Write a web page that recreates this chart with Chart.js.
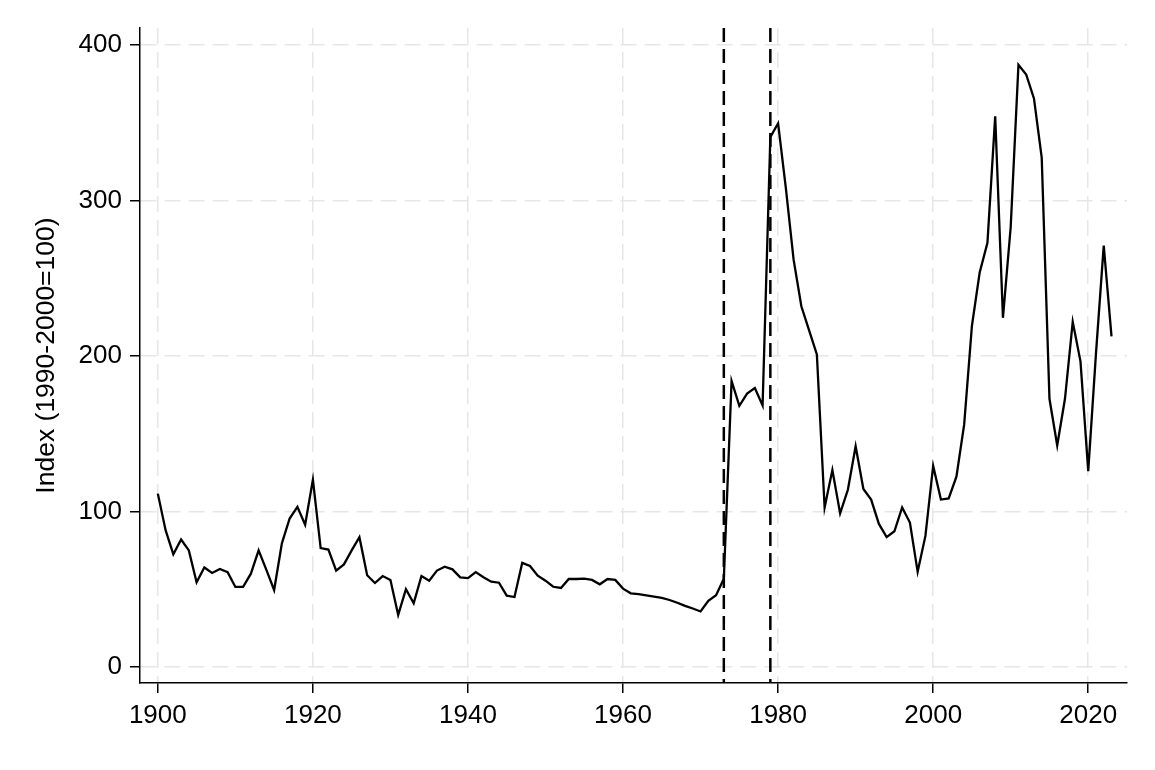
<!DOCTYPE html>
<html>
<head>
<meta charset="utf-8">
<title>Index 1900-2023</title>
<script src="https://cdn.jsdelivr.net/npm/chart.js@4.4.0/dist/chart.umd.min.js"></script>
<style>
  html, body { margin: 0; padding: 0; background: #fff; }
  canvas { display: block; }
</style>
</head>
<body>
<canvas id="indexChart" width="1155" height="770"></canvas>
<script>
// years on the x axis
const years = [
  1900, 1901, 1902, 1903, 1904, 1905, 1906, 1907, 1908, 1909,
  1910, 1911, 1912, 1913, 1914, 1915, 1916, 1917, 1918, 1919,
  1920, 1921, 1922, 1923, 1924, 1925, 1926, 1927, 1928, 1929,
  1930, 1931, 1932, 1933, 1934, 1935, 1936, 1937, 1938, 1939,
  1940, 1941, 1942, 1943, 1944, 1945, 1946, 1947, 1948, 1949,
  1950, 1951, 1952, 1953, 1954, 1955, 1956, 1957, 1958, 1959,
  1960, 1961, 1962, 1963, 1964, 1965, 1966, 1967, 1968, 1969,
  1970, 1971, 1972, 1973, 1974, 1975, 1976, 1977, 1978, 1979,
  1980, 1981, 1982, 1983, 1984, 1985, 1986, 1987, 1988, 1989,
  1990, 1991, 1992, 1993, 1994, 1995, 1996, 1997, 1998, 1999,
  2000, 2001, 2002, 2003, 2004, 2005, 2006, 2007, 2008, 2009,
  2010, 2011, 2012, 2013, 2014, 2015, 2016, 2017, 2018, 2019,
  2020, 2021, 2022, 2023
];

// index values (1990-2000 = 100), one per year
const indexValues = [
  111.5, 88, 72.5, 82, 75, 54.5, 64, 60.5, 63, 61,
  51.5, 51.5, 60, 75, 62.5, 49.5, 79.5, 95.5, 103, 91.5,
  120.5, 76.5, 75.5, 62, 66, 75, 83.5, 59, 54, 58.5,
  56, 33.5, 50, 41, 58.5, 55.5, 62, 64.5, 62.8, 57.7,
  57.2, 61, 57.7, 54.9, 54.2, 45.9, 45, 67, 65, 58.7,
  55.5, 51.6, 50.8, 56.6, 56.6, 56.8, 56, 53.2, 56.6, 56,
  50.4, 47.4, 46.8, 46.1, 45.3, 44.4, 43.1, 41.3, 39.3, 37.6,
  35.7, 42.6, 46.1, 56.8, 184, 168, 175.8, 179.4, 168.2, 340.8,
  349.7, 308, 262, 232, 216.5, 201, 102.6, 126.7, 98.8, 114,
  142, 114.5, 107.7, 92, 83.5, 87.3, 102.6, 92.9, 61.2, 84.3,
  129.3, 107.7, 108.4, 122.4, 156, 219.5, 253.8, 272.9, 354.2, 224.6,
  283, 387.3, 381, 365.7, 327.6, 172.5, 142.5, 172.5, 222, 196.6,
  126, 201.7, 271, 212.7
];

// vertical dashed reference lines
const breakYears = [1973, 1979];

// tick labels
const xTickValues = [1900, 1920, 1940, 1960, 1980, 2000, 2020];
const yTickValues = [0, 100, 200, 300, 400];

const fontFamily = '"Liberation Sans", Arial, Helvetica, sans-serif';
const gridColor = '#e6e6e6';

// draws the dashed vertical lines at the break years
const breakLinesPlugin = {
  id: 'breakLines',
  afterDatasetsDraw(chart) {
    const ctx = chart.ctx;
    const area = chart.chartArea;
    const xScale = chart.scales.x;
    ctx.save();
    ctx.strokeStyle = '#000';
    ctx.lineWidth = 2.5;
    ctx.setLineDash([14, 7]);
    breakYears.forEach(year => {
      const px = xScale.getPixelForValue(year);
      ctx.beginPath();
      ctx.moveTo(px, area.top);
      ctx.lineTo(px, area.bottom);
      ctx.stroke();
    });
    ctx.restore();
  }
};

const ctx = document.getElementById('indexChart').getContext('2d');
new Chart(ctx, {
  type: 'line',
  data: {
    datasets: [{
      data: years.map((year, i) => ({ x: year, y: indexValues[i] })),
      borderColor: '#000',
      borderWidth: 2.3,
      pointRadius: 0,
      tension: 0,
      fill: false
    }]
  },
  options: {
    responsive: false,
    animation: false,
    layout: { padding: { top: 28, right: 28, left: 31, bottom: 0 } },
    plugins: {
      legend: { display: false },
      tooltip: { enabled: false }
    },
    scales: {
      x: {
        type: 'linear',
        min: 1897.7,
        max: 2025,
        afterBuildTicks: scale => { scale.ticks = xTickValues.map(v => ({ value: v })); },
        afterFit: scale => { scale.height = 87; },
        grid: { color: gridColor, lineWidth: 1.5, tickLength: 10, tickColor: '#000', tickWidth: 1.5 },
        border: { color: '#000', width: 1.5, dash: [16, 8] },
        ticks: {
          color: '#000',
          font: { family: fontFamily, size: 26 },
          padding: 7,
          maxRotation: 0,
          autoSkip: false,
          callback: value => String(value)
        }
      },
      y: {
        type: 'linear',
        min: -10.3,
        max: 411,
        afterBuildTicks: scale => { scale.ticks = yTickValues.map(v => ({ value: v })); },
        afterFit: scale => { scale.width = 140 - 31; },
        grid: { color: gridColor, lineWidth: 1.5, tickLength: 10, tickColor: '#000', tickWidth: 1.5 },
        border: { color: '#000', width: 1.5, dash: [16, 8] },
        title: {
          display: true,
          text: 'Index (1990-2000=100)',
          color: '#000',
          font: { family: fontFamily, size: 26.5 },
          padding: 0
        },
        ticks: {
          color: '#000',
          font: { family: fontFamily, size: 26 },
          padding: 8,
          autoSkip: false,
          callback: value => String(value)
        }
      }
    }
  },
  plugins: [breakLinesPlugin]
});
</script>
</body>
</html>
